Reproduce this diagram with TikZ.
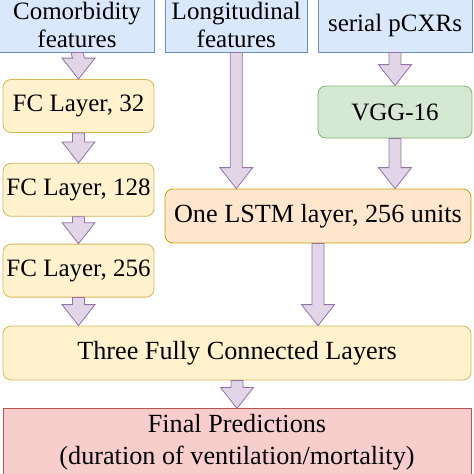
\documentclass[tikz,border=0pt]{standalone}
\usepackage{fontspec}
\setmainfont{Liberation Serif}
\newfontfamily\diagfont{Liberation Serif}
\usetikzlibrary{positioning, calc}
\definecolor{inblue}{HTML}{DAE8FC}
\definecolor{inblueline}{HTML}{6C8EBF}
\definecolor{fcyellow}{HTML}{FFF2CC}
\definecolor{fcyellowline}{HTML}{D6B656}
\definecolor{lstmorange}{HTML}{FFE6CC}
\definecolor{lstmorangeline}{HTML}{D79B00}
\definecolor{cnngreen}{HTML}{D5E8D4}
\definecolor{cnngreenline}{HTML}{82B366}
\definecolor{outred}{HTML}{F8CECC}
\definecolor{outredline}{HTML}{B85450}
\definecolor{flowpurple}{HTML}{E1D5E7}
\definecolor{flowpurpleline}{HTML}{9673A6}

% fat arrow from #1 down to the tip #2
\newcommand{\blockarrow}[2]{%
  \draw[flowarrow] ($(#1)+(-6,0)$) -- ($(#2)+(-6,21)$) -- ($(#2)+(-16.5,21)$) -- (#2)
    -- ($(#2)+(16.5,21)$) -- ($(#2)+(6,21)$) -- ($(#1)+(6,0)$) -- cycle;}

\begin{document}
\begin{tikzpicture}[
    x=1pt, y=1pt,
    every node/.style={font=\diagfont\fontsize{25}{31}\selectfont, align=center, inner sep=0pt, line width=0.8pt},
    bigtext/.style={font=\diagfont\fontsize{26.2}{32}\selectfont},
    inbox/.style={draw=inblueline, fill=inblue, minimum height=53.3pt, font=\diagfont\fontsize{25}{28}\selectfont},
    layer/.style={draw=fcyellowline, fill=fcyellow, rounded corners=8pt, minimum height=53pt},
    lstmbox/.style={draw=lstmorangeline, fill=lstmorange, rounded corners=8pt, minimum height=54pt},
    cnnbox/.style={draw=cnngreenline, fill=cnngreen, rounded corners=8pt, minimum height=52pt},
    outbox/.style={draw=outredline, fill=outred, minimum height=66pt},
    flowarrow/.style={draw=flowpurpleline, fill=flowpurple, line width=0.8pt, line join=miter}
]
\path[use as bounding box, clip] (0,0) rectangle (474,-474);
\fill[white] (0,0) rectangle (474,-474);

% Inputs
\node[inbox, minimum width=155pt] (com) at (77,-25.35) {Comorbidity\\features};
\node[inbox, minimum width=142pt, right=10pt of com] (long) {Longitudinal\\features};
\node[inbox, minimum width=154pt, right=10pt of long] (cxr) {serial pCXRs};

% Comorbidity branch
\node[layer, minimum width=151pt] (fc1) at (78.5,-106) {FC Layer, 32};
\node[layer, minimum width=151pt, below=30pt of fc1] (fc2) {FC Layer, 128};
\node[layer, minimum width=151pt, below=27pt of fc2] (fc3) {FC Layer, 256};

% Image branch
\node[cnnbox, minimum width=154pt] (vgg) at (395,-112) {VGG-16};

% LSTM
\node[lstmbox, bigtext, minimum width=306pt] (lstm) at (318,-216) {One LSTM layer, 256 units};

% Fusion and output
\node[layer, bigtext, minimum width=468pt, minimum height=54pt] (three) at (237,-353) {Three Fully Connected Layers};
\node[outbox, bigtext, minimum width=468pt, below=28pt of three] (final) {Final Predictions\\(duration of ventilation/mortality)};

% Arrows
\blockarrow{com.south}{fc1.north}
\blockarrow{fc1.south}{fc2.north}
\blockarrow{fc2.south}{fc3.north}
\blockarrow{fc3.south}{fc3.south |- three.north}
\blockarrow{long.south}{long.south |- lstm.north}
\blockarrow{cxr.south}{vgg.north}
\blockarrow{vgg.south}{vgg.south |- lstm.north}
\blockarrow{lstm.south}{lstm.south |- three.north}
\blockarrow{three.south}{final.north}

\end{tikzpicture}
\end{document}
